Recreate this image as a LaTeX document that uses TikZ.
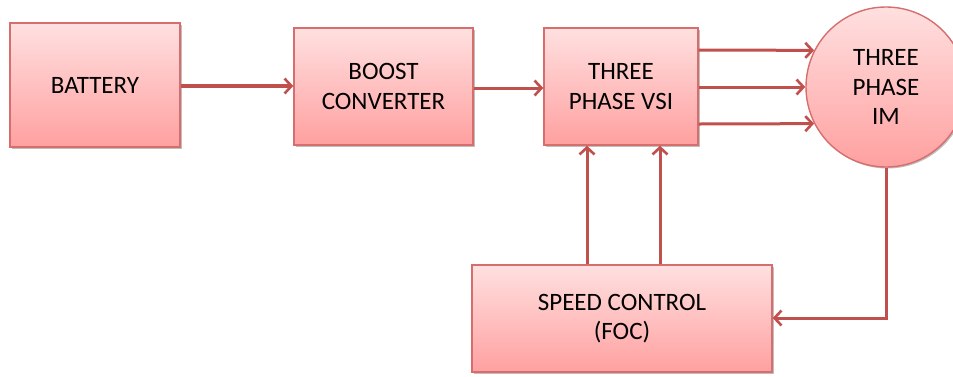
\documentclass[tikz,border=0pt]{standalone}
\usepackage{fontspec}
\setmainfont{Carlito}
\usetikzlibrary{arrows.meta,shadows}
\definecolor{boxtop}{RGB}{255,224,224}
\definecolor{boxbot}{RGB}{255,160,160}
\definecolor{boxline}{RGB}{214,110,110}
\definecolor{arr}{RGB}{192,80,77}
\tikzset{
  blk/.style={draw=boxline, line width=1.4pt, top color=boxtop, bottom color=boxbot,
    align=center, font=\fontsize{25}{29.5}\selectfont, text=black,
    drop shadow={shadow xshift=1.5pt, shadow yshift=-1.5pt, opacity=0.25, fill=black}},
  conn/.style={draw=arr, line width=3pt, -{Straight Barb[length=7pt,width=15pt,line width=2.6pt]}},
}
\begin{document}
\begin{tikzpicture}[x=1pt,y=-1pt]
\useasboundingbox (0,0) rectangle (953,376);
\begin{scope}
\clip (0,0) rectangle (953,376);
\node[blk, minimum width=170pt, minimum height=124pt] (bat) at (95,85) {BATTERY};
\node[blk, minimum width=179pt, minimum height=117pt] (boost) at (383.5,86.5) {BOOST\\CONVERTER};
\node[blk, minimum width=154pt, minimum height=117pt] (vsi) at (621,86.5) {THREE\\PHASE VSI};
\node[blk, circle, minimum size=160pt, inner sep=0pt] (im) at (886,87) {THREE\\PHASE\\IM};
\node[blk, minimum width=300pt, minimum height=107pt] (sc) at (622,318.5) {SPEED CONTROL\\(FOC)};

\draw[conn, line width=3.8pt] (bat.east |- 0,86) -- (boost.west |- 0,86);
\draw[conn] (boost.east |- 0,88) -- (vsi.west |- 0,88);
\draw[conn] (vsi.east |- 0,50) -- (im.{180-27});
\draw[conn] (vsi.east |- 0,87) -- (im.west);
\draw[conn] (vsi.east |- 0,124) -- (im.{180+27});
\draw[conn] (sc.north -| 587,0) -- (vsi.south -| 587,0);
\draw[conn] (sc.north -| 660,0) -- (vsi.south -| 660,0);
\draw[conn] (im.south) |- (sc.east |- 0,318);
\end{scope}
\end{tikzpicture}
\end{document}
